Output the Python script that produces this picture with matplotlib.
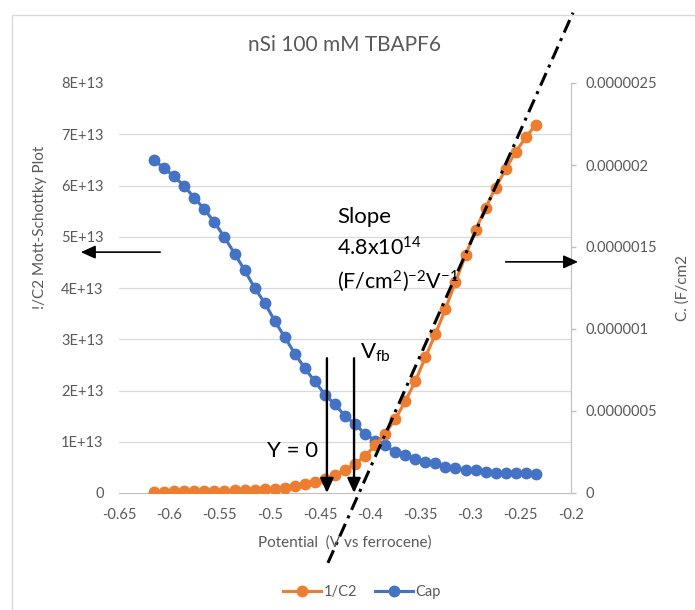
import matplotlib
matplotlib.use("Agg")
import matplotlib.pyplot as plt
import numpy as np
from matplotlib.lines import Line2D
from matplotlib.patches import Rectangle

plt.rcParams['font.family'] = ['Lato', 'DejaVu Sans']
plt.rcParams['mathtext.fontset'] = 'custom'
plt.rcParams['mathtext.rm'] = 'Lato'
plt.rcParams['mathtext.it'] = 'Lato:italic'

# potential (V vs ferrocene)
potential = [-0.615, -0.605, -0.595, -0.585, -0.575, -0.565, -0.555, -0.545, -0.535, -0.525,
             -0.515, -0.505, -0.495, -0.485, -0.475, -0.465, -0.455, -0.445, -0.435, -0.425,
             -0.415, -0.405, -0.395, -0.385, -0.375, -0.365, -0.355, -0.345, -0.335, -0.325,
             -0.315, -0.305, -0.295, -0.285, -0.275, -0.265, -0.255, -0.245, -0.235]

# 1/C^2 (x1e13)
inv_c2 = [0.02, 0.02, 0.03, 0.03, 0.03, 0.03, 0.04, 0.04, 0.05, 0.05,
          0.06, 0.07, 0.08, 0.10, 0.13, 0.17, 0.21, 0.27, 0.35, 0.45,
          0.57, 0.72, 0.93, 1.16, 1.44, 1.79, 2.18, 2.65, 3.10, 3.59,
          4.12, 4.64, 5.13, 5.57, 5.96, 6.32, 6.66, 6.94, 7.19]

# capacitance (x1e-6 F/cm2)
cap = [2.03, 1.98, 1.93, 1.87, 1.80, 1.73, 1.65, 1.56, 1.46, 1.36,
       1.25, 1.16, 1.05, 0.95, 0.85, 0.76, 0.68, 0.60, 0.54, 0.47,
       0.42, 0.36, 0.32, 0.29, 0.25, 0.23, 0.21, 0.19, 0.18, 0.16,
       0.15, 0.14, 0.14, 0.13, 0.125, 0.12, 0.12, 0.12, 0.115]

# linear fit (dash-dot)
fit_slope = 4.4e14
fit_x0 = -0.411
fit_span = [-0.442, -0.198]

x_ticks = [-0.65, -0.6, -0.55, -0.5, -0.45, -0.4, -0.35, -0.3, -0.25, -0.2]
x_labels = ['-0.65', '-0.6', '-0.55', '-0.5', '-0.45', '-0.4', '-0.35', '-0.3', '-0.25', '-0.2']
left_ticks = [0, 1e13, 2e13, 3e13, 4e13, 5e13, 6e13, 7e13, 8e13]
left_labels = ['0', '1E+13', '2E+13', '3E+13', '4E+13', '5E+13', '6E+13', '7E+13', '8E+13']
right_ticks = [0, 5e-7, 1e-6, 1.5e-6, 2e-6, 2.5e-6]
right_labels = ['0', '0.0000005', '0.000001', '0.0000015', '0.000002', '0.0000025']

ORANGE = '#ED7D31'
BLUE = '#4472C4'
GRAY = '#595959'
GRID = '#d9d9d9'

W, H = 695, 610
fig = plt.figure(figsize=(W / 100, H / 100), dpi=100)
fig.patch.set_facecolor('white')
fig.patches.append(Rectangle((12 / W, -0.1), 1.2, (H - 15) / H + 0.1, transform=fig.transFigure,
                             fill=False, edgecolor=GRID, lw=1))

pos = [119 / W, (H - 493) / H, (571 - 119) / W, (493 - 83) / H]
ax = fig.add_axes(pos)
ax2 = ax.twinx()
ax.set_zorder(2)
ax2.set_zorder(1)
ax.patch.set_visible(False)

x = np.array(potential)
ax.plot(x, np.array(inv_c2) * 1e13, color=ORANGE, lw=2.25, marker='o', ms=7.5, zorder=3)
ax2.plot(x, np.array(cap) * 1e-6, color=BLUE, lw=2.25, marker='o', ms=7.5, zorder=3)

ax.set_xlim(-0.65, -0.2)
ax.set_ylim(0, 8e13)
ax2.set_ylim(0, 2.5e-6)

ax.set_xticks(x_ticks)
ax.set_xticklabels(x_labels)
ax.set_yticks(left_ticks)
ax.set_yticklabels(left_labels)
ax2.set_yticks(right_ticks)
ax2.set_yticklabels(right_labels)

ax.tick_params(axis='x', length=0, pad=11, labelsize=10.5, labelcolor=GRAY)
ax.tick_params(axis='y', length=0, pad=11, labelsize=10.5, labelcolor=GRAY)
ax2.tick_params(axis='y', length=3.6, width=1, color='#bfbfbf', pad=7, labelsize=10.5, labelcolor=GRAY)

# grid behind the blue series
ax2.set_yticks(np.linspace(0, 2.5e-6, 9), minor=True)
ax2.tick_params(axis='y', which='minor', length=0)
ax2.grid(axis='y', which='minor', color=GRID, lw=0.9)
ax2.grid(axis='x', which='major', color=GRID, lw=0.9)
ax2.set_axisbelow(True)

for s in ['top', 'right', 'left']:
    ax.spines[s].set_visible(False)
ax.spines['bottom'].set_color('#bfbfbf')
for s in ['top', 'left', 'bottom']:
    ax2.spines[s].set_visible(False)
ax2.spines['right'].set_color('#bfbfbf')

# fit line
fx = np.array(fit_span)
ax.plot(fx, fit_slope * (fx - fit_x0), color='black', lw=2.2, dashes=(4.5, 2, 1, 2),
        clip_on=False, zorder=5)

# arrows
def arrow(tail, head, lw):
    ax.annotate('', xy=head, xytext=tail, annotation_clip=False, zorder=6,
                arrowprops=dict(arrowstyle='-|>,head_length=0.55,head_width=0.25', color='black',
                                lw=lw, mutation_scale=16, shrinkA=0, shrinkB=0))

arrow((-0.443, 2.63e13), (-0.443, 0.0), 1.7)
arrow((-0.416, 2.63e13), (-0.416, 0.0), 1.7)
arrow((-0.609, 4.70e13), (-0.688, 4.70e13), 1.2)
arrow((-0.265, 4.51e13), (-0.193, 4.51e13), 1.2)

ax.text(-0.433, 5.27e13, 'Slope', fontsize=16, va='baseline', zorder=6)
ax.text(-0.433, 4.64e13, r'$\mathregular{4.8x10^{14}}$', fontsize=15.5, va='baseline', zorder=6)
ax.text(-0.433, 4.00e13, r'$\mathregular{(F/cm^{2})^{-2}V^{-1}}$', fontsize=15.5, va='baseline', zorder=6)
ax.text(-0.5026, 0.70e13, 'Y = 0', fontsize=16, va='baseline', zorder=6)
ax.text(-0.410, 2.63e13, r'$\mathregular{V_{fb}}$', fontsize=16, va='baseline', zorder=6)

fig.text(345 / W, 1 - 45 / H, 'nSi 100 mM TBAPF6', fontsize=15, color=GRAY, ha='center', va='center')
fig.text(345 / W, 1 - 543 / H, 'Potential  (V vs ferrocene)', fontsize=11, color=GRAY, ha='center', va='center')
fig.text(40 / W, 1 - 227 / H, '!/C2 Mott-Schottky Plot', fontsize=11, color=GRAY, rotation=90,
         ha='center', va='center')
fig.text(683 / W, 1 - 288 / H, 'C. (F/cm2', fontsize=11, color=GRAY, rotation=90, ha='center', va='center')

handles = [Line2D([], [], color=ORANGE, lw=2.25, marker='o', ms=7.5),
           Line2D([], [], color=BLUE, lw=2.25, marker='o', ms=7.5)]
leg = fig.legend(handles, ['1/C2', 'Cap'], loc='center', bbox_to_anchor=(362 / W, 1 - 592 / H),
                 ncol=2, frameon=False, fontsize=10.5, handlelength=2.6, handletextpad=0.2,
                 columnspacing=1.2)
for t in leg.get_texts():
    t.set_color(GRAY)

fig.savefig('out.png', dpi=100)
